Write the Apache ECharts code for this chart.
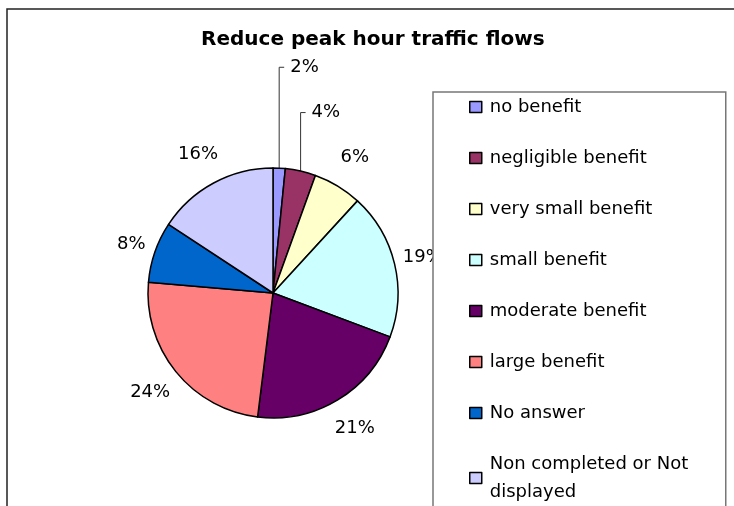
<!DOCTYPE html>
<html>
<head>
<meta charset="utf-8">
<title>Reduce peak hour traffic flows</title>
<script src="https://cdn.jsdelivr.net/npm/echarts@6/dist/echarts.min.js"></script>
<style>
  html, body { margin: 0; padding: 0; background: #fff; }
  #chart { width: 734px; height: 506px; }
</style>
</head>
<body>
<div id="chart"></div>
<script>
// answers per category (counts)
const categories = [
  "no benefit",
  "negligible benefit",
  "very small benefit",
  "small benefit",
  "moderate benefit",
  "large benefit",
  "No answer",
  "Non completed or Not displayed"
];
const counts = [2, 5, 8, 24, 27, 31, 10, 20];
const sliceColors = ["#9999FF", "#993366", "#FFFFCC", "#CCFFFF", "#660066", "#FF8080", "#0066CC", "#CCCCFF"];

const FONT = "DejaVu Sans";

const myChart = echarts.init(document.getElementById("chart"));

// the two thin slices get a leader line, the rest sit just outside the pie
const pieData = categories.map(function (name, i) {
  const item = {
    name: name,
    value: counts[i],
    itemStyle: { color: sliceColors[i] },
  };
  if (i === 0) {
    item.labelLine = { show: true, length: 101, length2: 5 };
  } else if (i === 1) {
    item.labelLine = { show: true, length: 60, length2: 5 };
  } else if (i === 3) {
    item.labelLine = { show: false, length: 29, length2: 0 };
  } else if (i === 6) {
    item.labelLine = { show: false, length: 25, length2: 0 };
  }
  return item;
});

const option = {
  backgroundColor: "#fff",
  animation: false,
  title: {
    text: "Reduce peak hour traffic flows",
    left: 196,
    top: 25,
    textStyle: {
      fontFamily: FONT,
      fontSize: 20,
      fontWeight: "bold",
      color: "#000",
    },
  },
  legend: {
    orient: "vertical",
    left: 433,
    top: 92,
    height: 800,
    padding: [1, 29, 12, 36],
    itemGap: 23,
    itemWidth: 12,
    itemHeight: 11,
    icon: "rect",
    selectedMode: false,
    backgroundColor: "#fff",
    borderColor: "#777",
    borderWidth: 1.5,
    itemStyle: { borderColor: "#000", borderWidth: 1.5 },
    textStyle: {
      fontFamily: FONT,
      fontSize: 18,
      color: "#000",
      lineHeight: 28,
      width: 207,
      overflow: "break",
      padding: [0, 0, 0, 3],
    },
    data: categories,
  },
  graphic: [
    {
      // outer chart frame (only top and left edges fall inside the picture)
      type: "rect",
      z: -10,
      shape: { x: 7, y: 9, width: 900, height: 700 },
      style: { fill: "none", stroke: "#222", lineWidth: 1.5 },
    },
  ],
  series: [
    {
      name: "Reduce peak hour traffic flows",
      type: "pie",
      center: [273, 293],
      radius: 125,
      startAngle: 90,
      clockwise: true,
      avoidLabelOverlap: false,
      percentPrecision: 0,
      itemStyle: {
        borderColor: "#000",
        borderWidth: 1.5,
      },
      label: {
        show: true,
        position: "outside",
        formatter: "{d}%",
        fontFamily: FONT,
        fontSize: 18,
        color: "#000",
        distanceToLabelLine: 0,
      },
      labelLine: {
        show: false,
        length: 33,
        length2: 0,
        lineStyle: { color: "#333", width: 1 },
      },
      emphasis: { disabled: true },
      labelLayout: function (params) {
        const pts = params.labelLinePoints;
        if (pts && (params.dataIndex === 0 || params.dataIndex === 1)) {
          // straight vertical leader with a short tick, like the original
          const x0 = pts[0][0];
          const yTop = pts[1][1];
          return {
            x: x0 + 11,
            y: yTop,
            align: "left",
            verticalAlign: "middle",
            labelLinePoints: [pts[0], [x0, yTop], [x0 + 5, yTop]],
          };
        }
        return { align: "center", verticalAlign: "middle" };
      },
      data: pieData,
    },
  ],
};

myChart.setOption(option);
</script>
</body>
</html>
